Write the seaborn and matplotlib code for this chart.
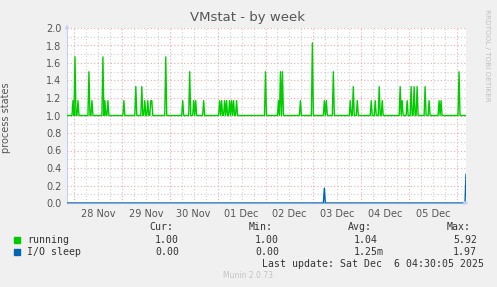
import matplotlib
matplotlib.use("Agg")
import matplotlib.pyplot as plt
import seaborn as sns
import pandas as pd
import numpy as np

# ---------------- data ----------------
start_time = "2025-11-27 20:30"
end_time = "2025-12-06 04:30"
running_base = 1.0
running_spike_times = [
    "2025-11-27 23:30", "2025-11-28 00:30", "2025-11-28 02:00", "2025-11-28 07:30",
    "2025-11-28 09:00", "2025-11-28 14:30", "2025-11-28 15:30", "2025-11-28 17:00",
    "2025-11-29 01:00", "2025-11-29 07:00", "2025-11-29 10:00", "2025-11-29 11:30",
    "2025-11-29 13:00", "2025-11-29 14:30", "2025-11-29 15:00", "2025-11-29 22:00",
    "2025-11-30 06:30", "2025-11-30 10:00", "2025-11-30 12:00", "2025-11-30 13:00",
    "2025-11-30 17:00", "2025-12-01 01:00", "2025-12-01 02:00", "2025-12-01 03:30",
    "2025-12-01 04:30", "2025-12-01 06:00", "2025-12-01 07:00", "2025-12-01 08:00",
    "2025-12-01 09:30", "2025-12-02 00:00", "2025-12-02 06:30", "2025-12-02 07:30",
    "2025-12-02 08:30", "2025-12-02 17:30", "2025-12-02 23:30", "2025-12-03 05:30",
    "2025-12-03 06:30", "2025-12-03 10:00", "2025-12-03 18:30", "2025-12-03 20:00",
    "2025-12-03 22:00", "2025-12-04 05:00", "2025-12-04 07:00", "2025-12-04 09:00",
    "2025-12-04 10:30", "2025-12-04 19:30", "2025-12-04 20:30", "2025-12-04 23:00",
    "2025-12-05 01:00", "2025-12-05 02:30", "2025-12-05 04:00", "2025-12-05 08:00",
    "2025-12-05 10:00", "2025-12-05 15:00", "2025-12-05 16:00", "2025-12-06 01:00",
]
running_spike_values = [
    1.17, 1.67, 1.17, 1.50,
    1.17, 1.67, 1.17, 1.17,
    1.17, 1.33, 1.33, 1.17,
    1.17, 1.17, 1.17, 1.67,
    1.17, 1.50, 1.17, 1.17,
    1.17, 1.17, 1.17, 1.17,
    1.17, 1.17, 1.17, 1.17,
    1.17, 1.50, 1.17, 1.50,
    1.50, 1.17, 1.83, 1.17,
    1.17, 1.50, 1.17, 1.33,
    1.17, 1.17, 1.17, 1.33,
    1.17, 1.33, 1.17, 1.17,
    1.33, 1.33, 1.33, 1.33,
    1.17, 1.17, 1.17, 1.50,
]
io_base = 0.0
io_spike_times = ["2025-12-03 05:30", "2025-12-06 04:30"]
io_spike_values = [0.17, 0.33]

day_labels = ["28 Nov", "29 Nov", "30 Nov", "01 Dec", "02 Dec", "03 Dec", "04 Dec", "05 Dec"]
y_ticks = [0.0, 0.2, 0.4, 0.6, 0.8, 1.0, 1.2, 1.4, 1.6, 1.8, 2.0]

legend_names = ["running", "I/O sleep"]
legend_colors = ["#00CC00", "#0066B3"]
cur_vals = ["1.00", "0.00"]
min_vals = ["1.00", "0.00"]
avg_vals = ["1.04", "1.25m"]
max_vals = ["5.92", "1.97"]

# ---------------- build series ----------------
times = pd.date_range(start_time, end_time, freq="30min")
running = pd.Series(running_base, index=times)
running.loc[pd.to_datetime(running_spike_times)] = running_spike_values
io = pd.Series(io_base, index=times)
io.loc[pd.to_datetime(io_spike_times)] = io_spike_values
df = pd.DataFrame({"time": times, "running": running.values, "io": io.values})

# ---------------- plot ----------------
sns.set_theme(style="white")
plt.rcParams["font.family"] = ["DejaVu Sans"]

W, H = 497, 287
fig = plt.figure(figsize=(W / 100, H / 100), dpi=100, facecolor="#F0F0F0")
ax = fig.add_axes([67 / W, 1 - 203 / H, (466 - 67) / W, (203 - 28) / H])
ax.set_facecolor("white")

t0 = pd.Timestamp(start_time)
t1 = pd.Timestamp(end_time)
ax.set_xlim(t0, t1)
ax.set_ylim(0, 2.0)

# grid
red_grid = "#F0A8A8"
grey_grid = "#CCCCCC"
dots = (0, (1, 2))
for h in pd.date_range(t0.ceil("6h"), t1, freq="6h"):
    col = red_grid if h.hour == 0 else grey_grid
    ax.axvline(h, color=col, lw=0.8, ls=dots, zorder=0)
for v in np.arange(0.1, 2.01, 0.1):
    col = red_grid if round(v * 10) % 2 == 0 else grey_grid
    ax.axhline(v, color=col, lw=0.8, ls=dots, zorder=0)

sns.lineplot(data=df, x="time", y="running", ax=ax, color=legend_colors[0], lw=1.0, zorder=3)
sns.lineplot(data=df, x="time", y="io", ax=ax, color=legend_colors[1], lw=1.0, zorder=3)

# ticks
noon = [pd.Timestamp("2025-11-28 12:00") + pd.Timedelta(days=i) for i in range(len(day_labels))]
ax.set_xticks(noon)
ax.set_xticklabels(day_labels)
ax.set_yticks(y_ticks)
ax.set_yticklabels([f"{v:.1f}" for v in y_ticks])
ax.tick_params(axis="both", length=0, labelsize=7, colors="#555555", pad=4)
ax.set_xlabel("")
ax.set_ylabel("process states", fontsize=7, color="#555555")
ax.yaxis.set_label_coords((11 - 67) / (466 - 67), 0.49)

for s in ["top", "right"]:
    ax.spines[s].set_visible(False)
ax.spines["left"].set_color("#C8D0F0")
ax.spines["left"].set_linewidth(0.8)
ax.spines["bottom"].set_color("#8FA8D8")
ax.spines["bottom"].set_linewidth(0.8)

# axis arrows
ax.annotate("", xy=(0, 1.035), xytext=(0, 0.99), xycoords="axes fraction",
            arrowprops=dict(arrowstyle="-|>", color="#C8D0F8", lw=0.6, mutation_scale=6))
ax.annotate("", xy=(1.012, 0), xytext=(0.995, 0), xycoords="axes fraction",
            arrowprops=dict(arrowstyle="-|>", color="#C8D0F8", lw=0.6, mutation_scale=6))

# title and side text
fig.text(248 / W, 1 - 17 / H, "VMstat - by week", ha="center", va="center",
         fontsize=9.5, color="#555555")
fig.text(487 / W, 1 - 55 / H, "RRDTOOL / TOBI OETIKER", rotation=270, ha="center",
         va="center", fontsize=5.2, color="#C0C0C0")

# legend / stats
mono = "DejaVu Sans Mono"
fs = 7.1
tc = "#333333"
def ft(x, y, s, **kw):
    fig.text(x / W, 1 - y / H, s, family=mono, fontsize=fs, color=tc, va="center", **kw)

ft(149, 227, "Cur:")
ft(249, 227, "Min:")
ft(348, 227, "Avg:")
ft(447, 227, "Max:")
rows_y = [240, 252]
for i in range(2):
    y = rows_y[i]
    fig.patches.append(plt.Rectangle((14 / W, 1 - (y + 3) / H), 6 / W, 6 / H,
                                     transform=fig.transFigure, color=legend_colors[i]))
    ft(27, y, legend_names[i])
    ft(155, y, cur_vals[i])
    ft(255, y, min_vals[i])
    ft(354, y, avg_vals[i])
    ft(453, y, max_vals[i])
ft(262, 264, "Last update: Sat Dec  6 04:30:05 2025")
fig.text(248 / W, 1 - 276 / H, "Munin 2.0.73", ha="center", va="center",
         fontsize=5.5, color="#C4C4C4")

fig.savefig("out.png", dpi=100, facecolor=fig.get_facecolor())
